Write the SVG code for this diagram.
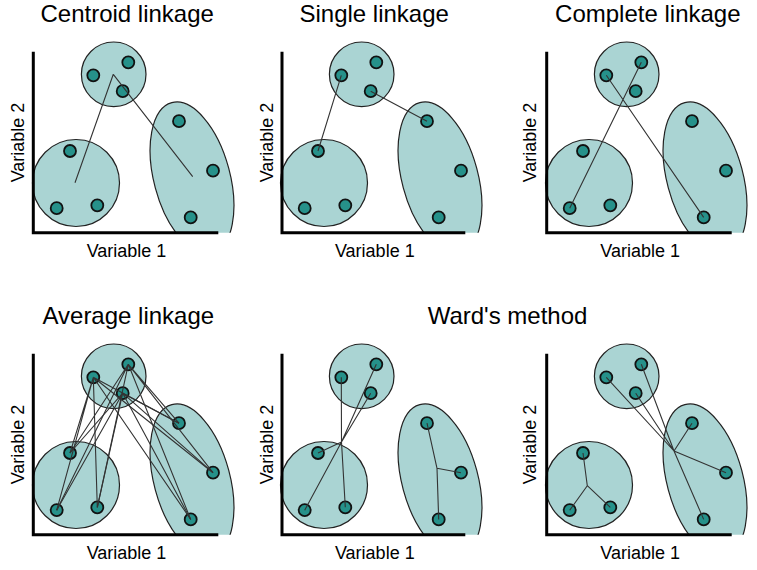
<svg xmlns="http://www.w3.org/2000/svg" width="757" height="570" viewBox="0 0 757 570">
<style>
.cl{fill:#aad4d3;stroke:#222;stroke-width:1.2}
.pt{fill:#26918a;stroke:#111;stroke-width:1.8}
.ln{stroke:#333;stroke-width:1.1;fill:none}
.ax{stroke:#000;stroke-width:3;fill:none}
.ti{font-family:"Liberation Sans",Arial,sans-serif;font-size:24px;text-anchor:middle;fill:#000}
.lb{font-family:"Liberation Sans",Arial,sans-serif;font-size:18px;text-anchor:middle;fill:#000}
</style>
<defs>
<clipPath id="clipx"><rect x="0" y="0" width="250" height="232.7"/></clipPath>
</defs>
<rect width="757" height="570" fill="#fff"/>

<!-- Titles -->
<text class="ti" x="127.2" y="22">Centroid linkage</text>
<text class="ti" x="374.2" y="22">Single linkage</text>
<text class="ti" x="647.8" y="22">Complete linkage</text>
<text class="ti" x="128.3" y="324">Average linkage</text>
<text class="ti" x="507.5" y="324">Ward's method</text>

<!-- Axis labels -->
<g id="axis-labels">
<text class="lb" x="126.5" y="256.7">Variable 1</text>
<text class="lb" x="374.8" y="256.7">Variable 1</text>
<text class="lb" x="640.2" y="256.7">Variable 1</text>
<text class="lb" x="126.5" y="558.7">Variable 1</text>
<text class="lb" x="374.8" y="558.7">Variable 1</text>
<text class="lb" x="640.2" y="558.7">Variable 1</text>
<text class="lb" transform="translate(24,142.5) rotate(-90)">Variable 2</text>
<text class="lb" transform="translate(272.7,142.5) rotate(-90)">Variable 2</text>
<text class="lb" transform="translate(536.3,142.5) rotate(-90)">Variable 2</text>
<text class="lb" transform="translate(24,444.5) rotate(-90)">Variable 2</text>
<text class="lb" transform="translate(272.7,444.5) rotate(-90)">Variable 2</text>
<text class="lb" transform="translate(536.3,444.5) rotate(-90)">Variable 2</text>
</g>

<!-- Panel 1: Centroid -->
<g id="panel-centroid">
<g id="p1-clusters">
<circle class="cl" cx="113.7" cy="74.3" r="32.3"/>
<circle class="cl" cx="76" cy="183" r="43.5"/>
<g clip-path="url(#clipx)"><ellipse class="cl" cx="192" cy="178" rx="38" ry="78" transform="rotate(-15 192 178)"/></g>
</g>
<g id="p1-points">
<circle class="pt" cx="93.3" cy="75.3" r="6"/><circle class="pt" cx="128.3" cy="62.3" r="6"/><circle class="pt" cx="122.7" cy="91.2" r="6"/>
<circle class="pt" cx="70" cy="151" r="6"/><circle class="pt" cx="56.7" cy="208.2" r="6"/><circle class="pt" cx="97.3" cy="205.3" r="6"/>
<circle class="pt" cx="179" cy="121.2" r="6"/><circle class="pt" cx="213" cy="170.7" r="6"/><circle class="pt" cx="190.7" cy="217.4" r="6"/>
</g>
<g id="p1-connectors" class="ln">
<path d="M113.3,74.3 L75,182.7 M113.3,74.3 L192.7,176.7"/>
</g>
<path class="ax" d="M33.3,51.7 V232.7 H218.3"/>
</g>

<!-- Panel 2: Single -->
<g id="panel-single" transform="translate(248,0)">
<g id="p2-clusters">
<circle class="cl" cx="113.7" cy="74.3" r="32.3"/>
<circle class="cl" cx="76" cy="183" r="43.5"/>
<g clip-path="url(#clipx)"><ellipse class="cl" cx="192" cy="178" rx="38" ry="78" transform="rotate(-15 192 178)"/></g>
</g>
<g id="p2-points">
<circle class="pt" cx="93.3" cy="75.3" r="6"/><circle class="pt" cx="128.3" cy="62.3" r="6"/><circle class="pt" cx="122.7" cy="91.2" r="6"/>
<circle class="pt" cx="70" cy="151" r="6"/><circle class="pt" cx="56.7" cy="208.2" r="6"/><circle class="pt" cx="97.3" cy="205.3" r="6"/>
<circle class="pt" cx="179" cy="121.2" r="6"/><circle class="pt" cx="213" cy="170.7" r="6"/><circle class="pt" cx="190.7" cy="217.4" r="6"/>
</g>
<g id="p2-connectors" class="ln">
<path d="M93.3,75.3 L70,151 M122.7,91.2 L179,121.2"/>
</g>
<path class="ax" d="M34,51.7 V232.7 H217.3"/>
</g>

<!-- Panel 3: Complete -->
<g id="panel-complete" transform="translate(513,0)">
<g id="p3-clusters">
<circle class="cl" cx="113.7" cy="74.3" r="32.3"/>
<circle class="cl" cx="76" cy="183" r="43.5"/>
<g clip-path="url(#clipx)"><ellipse class="cl" cx="192" cy="178" rx="38" ry="78" transform="rotate(-15 192 178)"/></g>
</g>
<g id="p3-points">
<circle class="pt" cx="93.3" cy="75.3" r="6"/><circle class="pt" cx="128.3" cy="62.3" r="6"/><circle class="pt" cx="122.7" cy="91.2" r="6"/>
<circle class="pt" cx="70" cy="151" r="6"/><circle class="pt" cx="56.7" cy="208.2" r="6"/><circle class="pt" cx="97.3" cy="205.3" r="6"/>
<circle class="pt" cx="179" cy="121.2" r="6"/><circle class="pt" cx="213" cy="170.7" r="6"/><circle class="pt" cx="190.7" cy="217.4" r="6"/>
</g>
<g id="p3-connectors" class="ln">
<path d="M128.3,62.3 L56.7,208.2 M93.3,75.3 L190.7,217.4"/>
</g>
<path class="ax" d="M33.7,51.7 V232.7 H218.7"/>
</g>

<!-- Panel 4: Average -->
<g id="panel-average" transform="translate(0,302)">
<g id="p4-clusters">
<circle class="cl" cx="113.7" cy="74.3" r="32.3"/>
<circle class="cl" cx="76" cy="183" r="43.5"/>
<g clip-path="url(#clipx)"><ellipse class="cl" cx="192" cy="178" rx="38" ry="78" transform="rotate(-15 192 178)"/></g>
</g>
<g id="p4-points">
<circle class="pt" cx="93.3" cy="75.3" r="6"/><circle class="pt" cx="128.3" cy="62.3" r="6"/><circle class="pt" cx="122.7" cy="91.2" r="6"/>
<circle class="pt" cx="70" cy="151" r="6"/><circle class="pt" cx="56.7" cy="208.2" r="6"/><circle class="pt" cx="97.3" cy="205.3" r="6"/>
<circle class="pt" cx="179" cy="121.2" r="6"/><circle class="pt" cx="213" cy="170.7" r="6"/><circle class="pt" cx="190.7" cy="217.4" r="6"/>
</g>
<g id="p4-connectors" class="ln">
<path d="M93.3,75.3 L70,151 M93.3,75.3 L56.7,208.2 M93.3,75.3 L97.3,205.3 M93.3,75.3 L179,121.2 M93.3,75.3 L213,170.7 M93.3,75.3 L190.7,217.4"/>
<path d="M128.3,62.3 L70,151 M128.3,62.3 L56.7,208.2 M128.3,62.3 L97.3,205.3 M128.3,62.3 L179,121.2 M128.3,62.3 L213,170.7 M128.3,62.3 L190.7,217.4"/>
<path d="M122.7,91.2 L70,151 M122.7,91.2 L56.7,208.2 M122.7,91.2 L97.3,205.3 M122.7,91.2 L179,121.2 M122.7,91.2 L213,170.7 M122.7,91.2 L190.7,217.4"/>
</g>
<path class="ax" d="M33.3,51.7 V232.7 H218.3"/>
</g>

<!-- Panel 5: Ward (a) -->
<g id="panel-ward-1" transform="translate(248,302)">
<g id="p5-clusters">
<circle class="cl" cx="113.7" cy="74.3" r="32.3"/>
<circle class="cl" cx="76" cy="183" r="43.5"/>
<g clip-path="url(#clipx)"><ellipse class="cl" cx="192" cy="178" rx="38" ry="78" transform="rotate(-15 192 178)"/></g>
</g>
<g id="p5-points">
<circle class="pt" cx="93.3" cy="75.3" r="6"/><circle class="pt" cx="128.3" cy="62.3" r="6"/><circle class="pt" cx="122.7" cy="91.2" r="6"/>
<circle class="pt" cx="70" cy="151" r="6"/><circle class="pt" cx="56.7" cy="208.2" r="6"/><circle class="pt" cx="97.3" cy="205.3" r="6"/>
<circle class="pt" cx="179" cy="121.2" r="6"/><circle class="pt" cx="213" cy="170.7" r="6"/><circle class="pt" cx="190.7" cy="217.4" r="6"/>
</g>
<g id="p5-connectors" class="ln">
<path d="M93.3,75.3 L93.5,140 M128.3,62.3 L93.5,140 M122.7,91.2 L93.5,140 M70,151 L93.5,140 M56.7,208.2 L93.5,140 M97.3,205.3 L93.5,140"/>
<path d="M179,121.2 L189,166.3 M213,170.7 L189,166.3 M190.7,217.4 L189,166.3"/>
</g>
<path class="ax" d="M34,51.7 V232.7 H217.3"/>
</g>

<!-- Panel 6: Ward (b) -->
<g id="panel-ward-2" transform="translate(513,302)">
<g id="p6-clusters">
<circle class="cl" cx="113.7" cy="74.3" r="32.3"/>
<circle class="cl" cx="76" cy="183" r="43.5"/>
<g clip-path="url(#clipx)"><ellipse class="cl" cx="192" cy="178" rx="38" ry="78" transform="rotate(-15 192 178)"/></g>
</g>
<g id="p6-points">
<circle class="pt" cx="93.3" cy="75.3" r="6"/><circle class="pt" cx="128.3" cy="62.3" r="6"/><circle class="pt" cx="122.7" cy="91.2" r="6"/>
<circle class="pt" cx="70" cy="151" r="6"/><circle class="pt" cx="56.7" cy="208.2" r="6"/><circle class="pt" cx="97.3" cy="205.3" r="6"/>
<circle class="pt" cx="179" cy="121.2" r="6"/><circle class="pt" cx="213" cy="170.7" r="6"/><circle class="pt" cx="190.7" cy="217.4" r="6"/>
</g>
<g id="p6-connectors" class="ln">
<path d="M70,151 L74.3,183.7 M56.7,208.2 L74.3,183.7 M97.3,205.3 L74.3,183.7"/>
<path d="M93.3,75.3 L161,149 M128.3,62.3 L161,149 M122.7,91.2 L161,149 M179,121.2 L161,149 M213,170.7 L161,149 M190.7,217.4 L161,149"/>
</g>
<path class="ax" d="M33.7,51.7 V232.7 H218.7"/>
</g>
</svg>
